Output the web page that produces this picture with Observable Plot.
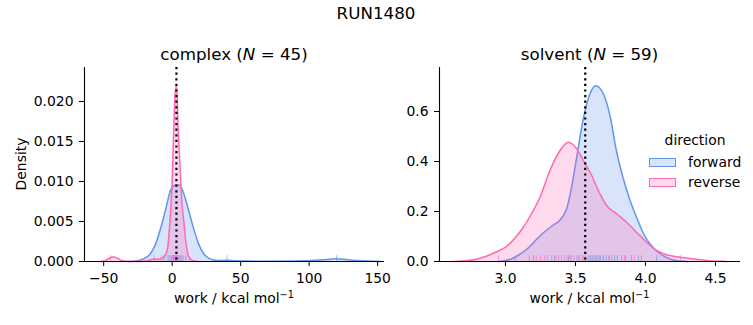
<!DOCTYPE html>
<html><head><meta charset="utf-8">
<script src="https://cdn.jsdelivr.net/npm/d3@7"></script>
<script src="https://cdn.jsdelivr.net/npm/@observablehq/plot@0.6"></script>
<style>
body{margin:0;background:#fff}
#root{position:relative;width:753px;height:325px;font-family:"DejaVu Sans",sans-serif;color:#000;overflow:hidden}
.t{position:absolute;transform:translate(-50%,-50%);white-space:nowrap;line-height:1}
#root svg{position:absolute;left:0;top:0}
sup{font-size:70%;vertical-align:0.55em;line-height:0}
.sw{position:absolute;width:27px;height:9px;box-sizing:border-box}
</style></head><body><div id="root"></div>
<script>
const figureTitle = "RUN1480";
const directions = ["forward", "reverse"];
const colors = ["#6495ED", "#FF69B4"];
const phases = ["complex", "solvent"];
const sampleCounts = [45, 59];
const xLabel = "work / kcal mol";

// complex: KDE curves
const complexForwardWork = [-32, -27.8, -23, -17, -12.1, -8.5, -4.9, -1.2, 1.5, 4.3, 6.5, 8.4, 12, 15.7, 19.3, 24.1, 30.1, 35, 40, 45, 55, 70, 90, 105, 115, 120, 125, 135, 152];
const complexForwardDensity = [0, 0.00003, 0.0002, 0.00075, 0.0022, 0.0041, 0.0064, 0.0089, 0.0095, 0.0096, 0.0093, 0.0085, 0.0064, 0.0041, 0.0022, 0.00075, 0.0002, 0.00012, 0.00016, 0.0001, 0.00005, 0.00003, 0.00005, 0.00015, 0.00028, 0.00033, 0.00028, 0.00012, 0.00001];
const complexReverseWork = [-52, -49, -46, -43, -40, -37, -34, -25, -18, -15, -13, -11, -9, -6, -4, -3.2, -1.7, -0.7, 0.2, 1.2, 2.0, 2.9, 3.6, 4.3, 5.2, 6.0, 7.2, 8.4, 9.6, 10.9, 12, 14, 16, 19];
const complexReverseDensity = [0, 0.0001, 0.0004, 0.00055, 0.0004, 0.00012, 0.00002, 0, 0.0001, 0.00025, 0.0003, 0.00028, 0.0003, 0.0006, 0.0012, 0.0018, 0.0048, 0.0075, 0.011, 0.0168, 0.0205, 0.0219, 0.0208, 0.0168, 0.0135, 0.011, 0.0072, 0.0052, 0.003, 0.0014, 0.0007, 0.0002, 0.00005, 0];
const complexForwardRug = [-6, -3, -1, 0, 1, 2, 3, 4, 5, 6, 7, 8, 10, 40, 120];
const complexReverseRug = [-45, -13, -8, -2, 0, 1, 1.5, 2, 2.5, 3, 3.5, 4, 5];
const complexMedian = 3.1;

// solvent
const solventForwardWork = [2.95, 3.0, 3.05, 3.10, 3.15, 3.20, 3.25, 3.30, 3.34, 3.38, 3.41, 3.44, 3.47, 3.51, 3.556, 3.60, 3.645, 3.70, 3.75, 3.79, 3.84, 3.89, 3.94, 3.99, 4.03, 4.10, 4.17, 4.245, 4.30];
const solventForwardDensity = [0, 0.004, 0.012, 0.028, 0.048, 0.075, 0.104, 0.128, 0.145, 0.160, 0.180, 0.215, 0.29, 0.42, 0.57, 0.665, 0.703, 0.67, 0.575, 0.45, 0.335, 0.245, 0.172, 0.108, 0.072, 0.033, 0.011, 0.002, 0];
const solventReverseWork = [2.63, 2.70, 2.774, 2.83, 2.89, 2.95, 3.01, 3.07, 3.128, 3.19, 3.247, 3.318, 3.39, 3.449, 3.509, 3.56, 3.604, 3.675, 3.722, 3.794, 3.865, 3.936, 4.008, 4.079, 4.15, 4.245, 4.364, 4.45, 4.53, 4.58];
const solventReverseDensity = [0, 0.002, 0.007, 0.015, 0.027, 0.042, 0.061, 0.095, 0.137, 0.195, 0.257, 0.364, 0.444, 0.477, 0.451, 0.40, 0.358, 0.271, 0.224, 0.191, 0.157, 0.117, 0.077, 0.044, 0.027, 0.017, 0.009, 0.003, 0.001, 0];
const solventForwardRug = [3.07, 3.20, 3.35, 3.45, 3.52, 3.56, 3.59, 3.61, 3.62, 3.64, 3.65, 3.67, 3.68, 3.70, 3.72, 3.74, 3.76, 3.78, 3.80, 3.83, 3.86, 3.90, 3.95, 4.08];
const solventReverseRug = [2.95, 3.17, 3.22, 3.25, 3.28, 3.30, 3.33, 3.36, 3.38, 3.40, 3.42, 3.44, 3.46, 3.47, 3.49, 3.51, 3.53, 3.55, 3.57, 3.60, 3.63, 3.66, 3.70, 3.74, 3.80, 3.85, 3.92, 3.97, 4.25];
const solventMedian = 3.57;

const complexXTicks = [-50, 0, 50, 100, 150];
const complexYTicks = [0, 0.005, 0.010, 0.015, 0.020];
const solventXTicks = [3.0, 3.5, 4.0, 4.5];
const solventYTicks = [0, 0.2, 0.4, 0.6];

const zip = (xs, ys) => xs.map((x, i) => ({x, y: ys[i]}));

function panel(o) {
  const marks = [];
  o.curves.forEach((c, i) => {
    marks.push(Plot.areaY(c, {x: "x", y: "y", fill: colors[i], fillOpacity: 0.25, curve: "monotone-x"}));
    marks.push(Plot.lineY(c, {x: "x", y: "y", stroke: colors[i], strokeWidth: 1.5, curve: "monotone-x"}));
  });
  const rugH = o.yDomain[1] * 0.03;
  o.rugs.forEach((r, i) => {
    marks.push(Plot.ruleX(r, {x: d => d, y1: 0, y2: rugH, stroke: colors[i], strokeOpacity: 0.6, strokeWidth: 1}));
  });
  marks.push(Plot.ruleX([o.median], {stroke: "black", strokeWidth: 2.2, strokeDasharray: "2.2,3.4"}));
  marks.push(Plot.ruleY([0], {stroke: "black", strokeWidth: 1.1}));
  marks.push(Plot.ruleX([o.xDomain[0]], {stroke: "black", strokeWidth: 1.1}));
  marks.push(Plot.axisX({ticks: o.xTicks, tickSize: 5, tickPadding: 7, label: null, tickFormat: o.xFmt}));
  marks.push(Plot.axisY({ticks: o.yTicks, tickSize: 5, tickPadding: 6, label: null, tickFormat: o.yFmt}));
  return Plot.plot({
    width: 753, height: 325,
    marginLeft: o.marginLeft, marginRight: o.marginRight, marginTop: 67, marginBottom: 64,
    x: {domain: o.xDomain},
    y: {domain: o.yDomain},
    style: {fontFamily: "DejaVu Sans", fontSize: "13.9px", background: "transparent", overflow: "visible", color: "black"},
    marks
  });
}

const root = document.getElementById("root");
root.appendChild(panel({
  xDomain: [-64, 155], yDomain: [0, 0.02425],
  xTicks: complexXTicks, yTicks: complexYTicks,
  xFmt: d3.format("d"), yFmt: d3.format(".3f"),
  curves: [zip(complexForwardWork, complexForwardDensity), zip(complexReverseWork, complexReverseDensity)],
  rugs: [complexForwardRug, complexReverseRug],
  median: complexMedian, marginLeft: 84, marginRight: 753 - 384
}));
root.appendChild(panel({
  xDomain: [2.529, 4.679], yDomain: [0, 0.776],
  xTicks: solventXTicks, yTicks: solventYTicks,
  xFmt: d3.format(".1f"), yFmt: d3.format(".1f"),
  curves: [zip(solventForwardWork, solventForwardDensity), zip(solventReverseWork, solventReverseDensity)],
  rugs: [solventForwardRug, solventReverseRug],
  median: solventMedian, marginLeft: 439, marginRight: 13
}));

function text(html, x, y, size, extra) {
  const d = document.createElement("div");
  d.className = "t";
  d.innerHTML = html;
  d.style.left = x + "px"; d.style.top = y + "px"; d.style.fontSize = size + "px";
  if (extra) d.style.cssText += extra;
  root.appendChild(d);
  return d;
}
text(figureTitle, 376, 13, 16.7);
const centers = [234, 589.5];
phases.forEach((p, i) => {
  text(`${p} (<i>N</i> = ${sampleCounts[i]})`, centers[i], 54, 16.7);
  text(`${xLabel}<sup>−1</sup>`, centers[i], 299, 13.9);
});
text("Density", 22, 164, 13.9, "transform:translate(-50%,-50%) rotate(-90deg);");

// legend
text("direction", 695, 141, 13.9);
directions.forEach((d, i) => {
  const sw = document.createElement("div");
  sw.className = "sw";
  sw.style.left = "649px"; sw.style.top = (157.5 + i * 20.5) + "px";
  sw.style.border = `1.4px solid ${colors[i]}`;
  sw.style.background = d3.color(colors[i]).copy({opacity: 0.25}).formatRgb();
  root.appendChild(sw);
  const t = text(d, 688, 162.5 + i * 20.5, 13.9, "transform:translate(0,-50%);");
});
</script></body></html>
